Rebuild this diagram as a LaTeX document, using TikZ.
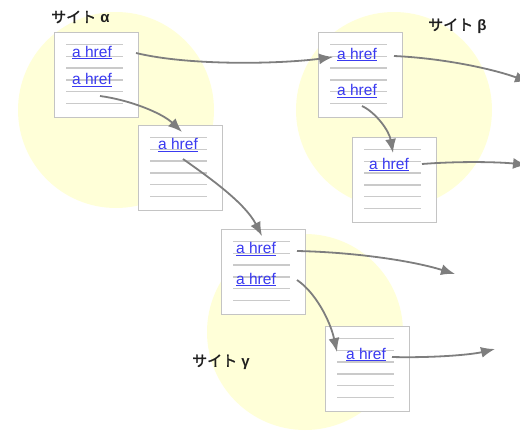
\documentclass[tikz,border=0pt]{standalone}
\usepackage{fontspec}
\setmainfont{Liberation Sans}
\newfontfamily\cjk[FakeBold=1.6]{Noto Sans CJK JP}
\usetikzlibrary{arrows.meta,calc}

\definecolor{sitefill}{HTML}{FFFFD8}
\definecolor{boxedge}{HTML}{C4C4C4}
\definecolor{ruleline}{HTML}{CACACA}
\definecolor{linkblue}{HTML}{3A3AF0}
\definecolor{arrowgrey}{HTML}{7E7E7E}

\tikzset{
  site/.style={fill=sitefill, draw=none},
  pagebox/.style={draw=boxedge, line width=1.3pt, fill=white, anchor=north west,
    minimum width=84pt, minimum height=85pt, inner sep=0pt},
  textline/.style={draw=ruleline, line width=1.3pt},
  link/.style={inner sep=0pt, anchor=base west, text=linkblue,
    font=\fontsize{15.5}{18}\selectfont},
  sitelabel/.style={inner sep=0pt, anchor=west, text=black!88,
    font=\fontsize{15}{18}\selectfont},
  hop/.style={draw=arrowgrey, line width=1.8pt,
    -{Latex[length=14pt,width=11pt]}}
}

% a page: white sheet with six ruled lines
\newcommand\drawpage[3]{%
  \node[pagebox] (#1) at (#2,#3) {};
  \foreach \k in {0,...,5}
    \draw[textline] (#2+12,#3+12.5+11.8*\k) -- (#2+69,#3+12.5+11.8*\k);
}

\begin{document}
\begin{tikzpicture}[x=1pt,y=-1pt]
  \useasboundingbox (0,0) rectangle (520,432);

  % sites
  \fill[site] (116,110) circle (98);
  \fill[site] (394,110) circle (98);
  \fill[site] (305,332) circle (98);

  \node[sitelabel] (labA) at (51,17)  {{\cjk サイト} \textbf{α}};
  \node[sitelabel] (labB) at (428,26) {{\cjk サイト} \textbf{β}};
  \node[sitelabel] (labG) at (192,362) {{\cjk サイト} \textbf{γ}};

  % pages
  \drawpage{pA1}{54}{32}
  \drawpage{pA2}{138}{125}
  \drawpage{pB1}{318}{32}
  \drawpage{pB2}{352}{137}
  \drawpage{pG1}{221}{229}
  \drawpage{pG2}{325}{326}

  % links
  \node[link] (a1) at (72,57)    {\underline{a href}};
  \node[link] (a2) at (72,84.5)  {\underline{a href}};
  \node[link] (a3) at (158,149.5){\underline{a href}};
  \node[link] (b1) at (337,59)   {\underline{a href}};
  \node[link] (b2) at (337,95.5) {\underline{a href}};
  \node[link] (b3) at (369,169)  {\underline{a href}};
  \node[link] (g1) at (236,253.5){\underline{a href}};
  \node[link] (g2) at (236,284)  {\underline{a href}};
  \node[link] (g3) at (346,359)  {\underline{a href}};

  % free ends of outgoing links
  \coordinate (outB1) at (529,82);
  \coordinate (outB3) at (527,165);
  \coordinate (outG1) at (455,274);
  \coordinate (outG3) at (495,349);

  % hyperlinks between pages
  \draw[hop] ($(a1.base west)+(64,-4)$) .. controls (190,66) and (280,64) .. ($(b1.base west)+(-4,-2)$);
  \draw[hop] ($(a2.base west)+(28,11.5)$) .. controls (130,100) and (162,113) .. ($(a3.base west)+(24,-17.5)$);
  \draw[hop] ($(a3.base west)+(25,9.5)$) .. controls (210,178) and (245,203) .. ($(g1.base west)+(26,-17.5)$);
  \draw[hop] ($(b1.base west)+(57,-3)$) .. controls (440,58) and (490,68) .. (outB1);
  \draw[hop] ($(b2.base west)+(25,10.5)$) .. controls (375,112) and (389,130) .. ($(b3.base west)+(24,-16)$);
  \draw[hop] ($(b3.base west)+(53,-5)$) .. controls (460,161) and (500,162) .. (outB3);
  \draw[hop] ($(g1.base west)+(61,-2.5)$) .. controls (350,252) and (410,260) .. (outG1);
  \draw[hop] ($(g2.base west)+(61,-4)$) .. controls (315,292) and (330,320) .. ($(g3.base west)+(-9,-7)$);
  \draw[hop] ($(g3.base west)+(46,-2)$) .. controls (430,358) and (470,355) .. (outG3);
\end{tikzpicture}
\end{document}
